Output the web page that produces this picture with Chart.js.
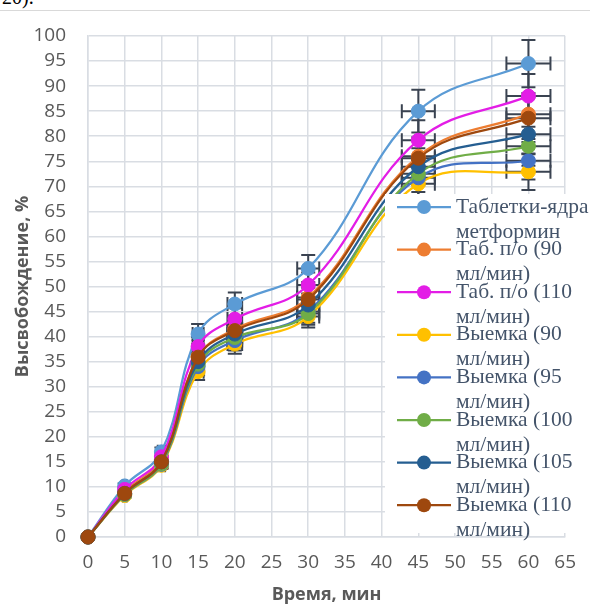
<!DOCTYPE html>
<html>
<head>
<meta charset="utf-8">
<script src="https://cdn.jsdelivr.net/npm/chart.js@4"></script>
<style>
  html, body { margin: 0; padding: 0; background: #fff; }
  #wrap { position: relative; width: 590px; height: 608px; overflow: hidden; }
  #doc { position: absolute; left: 2px; top: -14px; font: 20px "Liberation Serif", serif; color: #000; }
  #rule { position: absolute; left: 0; top: 10px; width: 590px; height: 1px; background: #D9D9D9; }
  #c { position: absolute; left: 0; top: 0; }
</style>
</head>
<body>
<div id="wrap">
  <div id="doc">20).</div>
  <div id="rule"></div>
  <canvas id="c" width="590" height="608"></canvas>
</div>
<script>
// time points, min
const times = [0, 5, 10, 15, 20, 30, 45, 60];

const seriesNames = [
    'Таблетки-ядра метформин',
    'Таб. п/о (90 мл/мин)',
    'Таб. п/о (110 мл/мин)',
    'Выемка (90 мл/мин)',
    'Выемка (95 мл/мин)',
    'Выемка (100 мл/мин)',
    'Выемка (105 мл/мин)',
    'Выемка (110 мл/мин)'
];

// release, %
const tabCore = [0, 10.2, 17, 40.5, 46.5, 53.6, 85, 94.5];
const tab90   = [0, 9, 15.5, 36, 41.5, 47.8, 76, 84.4];
const tab110  = [0, 9.5, 16, 38, 43.5, 50.3, 79.2, 88];
const cut90   = [0, 8.3, 14.3, 33, 38.5, 44, 70.5, 72.9];
const cut95   = [0, 8.5, 14.5, 34, 39.2, 45, 71.7, 75.1];
const cut100  = [0, 8.5, 14.6, 34.5, 39.8, 44.6, 72.5, 78];
const cut105  = [0, 8.7, 15, 35, 40.5, 46.3, 73.9, 80.4];
const cut110  = [0, 8.7, 15, 35.9, 41.2, 47.4, 75.6, 83.6];

const seriesValues = [tabCore, tab90, tab110, cut90, cut95, cut100, cut105, cut110];
const colors = ['#5B9BD5', '#ED7D31', '#E31DE6', '#FFC000', '#4472C4', '#70AD47', '#255E91', '#9E480E'];

// error bars: 5% of value on both axes
const errPct = 0.05;

const datasets = seriesValues.map(function(vals, i) {
    return {
        label: seriesNames[i],
        data: vals.map(function(v, j) { return { x: times[j], y: v }; }),
        borderColor: colors[i],
        backgroundColor: colors[i],
        pointBackgroundColor: colors[i],
        pointBorderColor: colors[i],
        pointRadius: 7,
        pointBorderWidth: 1,
        borderWidth: 2.25,
        showLine: true,
        tension: 0.4,
        fill: false,
        clip: false,
        order: seriesValues.length - i
    };
});

const errorBars = {
    id: 'errorBars',
    beforeDatasetsDraw(chart) {
        const ctx = chart.ctx;
        const xs = chart.scales.x, ys = chart.scales.y;
        const cap = 7;
        ctx.save();
        ctx.strokeStyle = '#3A4351';
        ctx.lineWidth = 2;
        chart.data.datasets.forEach(function(ds) {
            ds.data.forEach(function(p) {
                if (p.x === 0) return;
                const px = xs.getPixelForValue(p.x), py = ys.getPixelForValue(p.y);
                const yTop = ys.getPixelForValue(p.y * (1 + errPct));
                const yBot = ys.getPixelForValue(p.y * (1 - errPct));
                const xL = xs.getPixelForValue(p.x * (1 - errPct));
                const xR = xs.getPixelForValue(p.x * (1 + errPct));
                ctx.beginPath();
                ctx.moveTo(px, yTop); ctx.lineTo(px, yBot);
                ctx.moveTo(px - cap, yTop); ctx.lineTo(px + cap, yTop);
                ctx.moveTo(px - cap, yBot); ctx.lineTo(px + cap, yBot);
                ctx.moveTo(xL, py); ctx.lineTo(xR, py);
                ctx.moveTo(xL, py - cap); ctx.lineTo(xL, py + cap);
                ctx.moveTo(xR, py - cap); ctx.lineTo(xR, py + cap);
                ctx.stroke();
            });
        });
        ctx.restore();
    }
};

const boxLegend = {
    id: 'boxLegend',
    afterDraw(chart) {
        const ctx = chart.ctx;
        ctx.save();
        ctx.fillStyle = '#fff';
        ctx.fillRect(385, 194, 205, 339);
        ctx.font = '21.5px "Liberation Serif"';
        ctx.textBaseline = 'middle';
        const maxW = 150;
        chart.data.datasets.forEach(function(ds, i) {
            const y = 207 + i * 42.6;
            ctx.strokeStyle = ds.borderColor;
            ctx.lineWidth = 2.25;
            ctx.beginPath();
            ctx.moveTo(397, y); ctx.lineTo(451, y);
            ctx.stroke();
            ctx.fillStyle = ds.borderColor;
            ctx.beginPath();
            ctx.arc(424, y, 7, 0, Math.PI * 2);
            ctx.fill();
            // wrap label
            const words = ds.label.split(' ');
            const lines = [];
            let cur = '';
            words.forEach(function(w) {
                const t = cur ? cur + ' ' + w : w;
                if (cur && ctx.measureText(t).width > maxW) { lines.push(cur); cur = w; }
                else cur = t;
            });
            lines.push(cur);
            ctx.fillStyle = '#44546A';
            lines.forEach(function(l, k) { ctx.fillText(l, 456, y + k * 25); });
        });
        ctx.restore();
    }
};

new Chart(document.getElementById('c').getContext('2d'), {
    type: 'scatter',
    data: { datasets: datasets },
    options: {
        responsive: false,
        animation: false,
        layout: { padding: { top: 36, right: 20, left: 0, bottom: 0 } },
        plugins: { legend: { display: false }, tooltip: { enabled: false } },
        scales: {
            x: {
                min: 0, max: 65,
                ticks: { stepSize: 5, autoSkip: false, maxRotation: 0, padding: 14, color: '#595959',
                         font: { family: 'Open Sans', size: 19 } },
                grid: { color: '#D9DDE3', lineWidth: 1.5, drawTicks: false },
                border: { color: '#D9DDE3', width: 1.5 },
                title: { display: true, text: 'Время, мин', color: '#595959', padding: { top: 0, bottom: 2 },
                         font: { family: 'Open Sans', size: 18, weight: 'bold' } },
                afterFit: function(s) { s.height = 71; }
            },
            y: {
                min: 0, max: 100,
                ticks: { stepSize: 5, autoSkip: false, padding: 22, color: '#595959',
                         font: { family: 'Open Sans', size: 19 } },
                grid: { color: '#D9DDE3', lineWidth: 1.5, drawTicks: false },
                border: { color: '#D9DDE3', width: 1.5 },
                title: { display: true, text: 'Высвобождение, %', color: '#595959', padding: { top: 12, bottom: 0 },
                         font: { family: 'Open Sans', size: 18, weight: 'bold' } },
                afterFit: function(s) { s.width = 88; }
            }
        }
    },
    plugins: [errorBars, boxLegend]
});
</script>
</body>
</html>
